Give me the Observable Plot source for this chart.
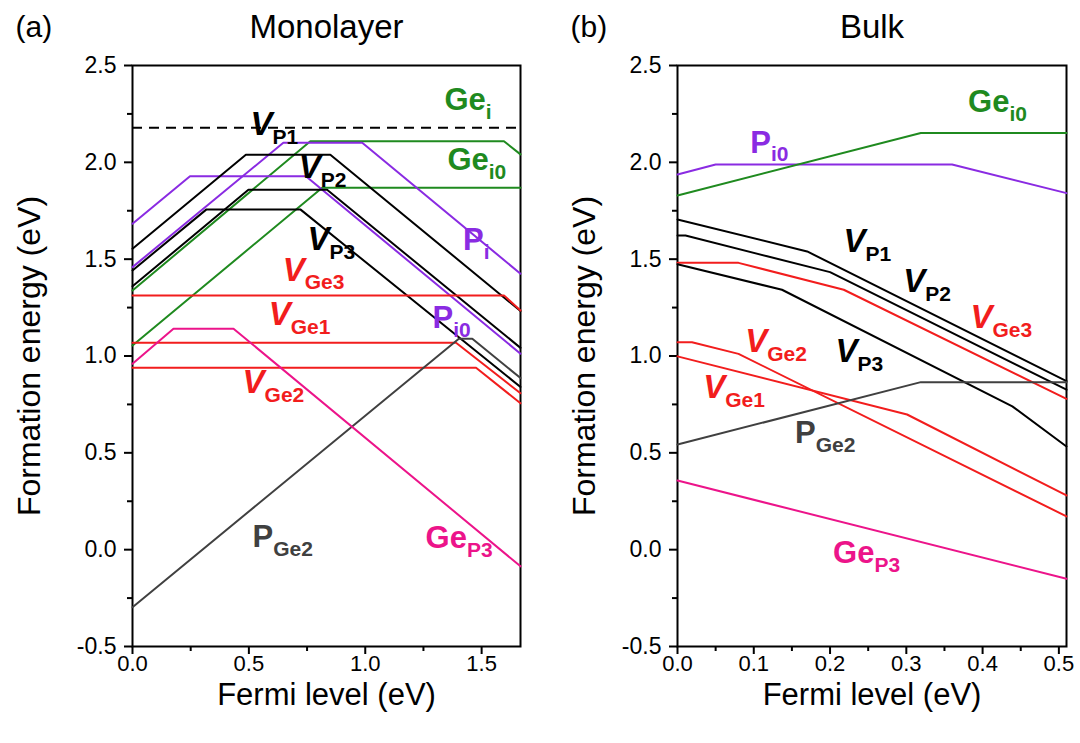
<!DOCTYPE html>
<html><head><meta charset="utf-8">
<script src="https://cdn.jsdelivr.net/npm/d3@7"></script>
<script src="https://cdn.jsdelivr.net/npm/@observablehq/plot@0.6"></script>
<style>
body{margin:0;background:#fff;}
#wrap{position:relative;width:1080px;height:743px;font-family:"Liberation Sans",Arial,sans-serif;}
#wrap svg{position:absolute;top:0;}
</style></head><body><div id="wrap"></div>
<script>
// ---------- Monolayer (a) : [Fermi level, formation energy] ----------
const mono_Ge_i  = [[0,1.338],[0.764,2.109],[1.596,2.109],[1.667,2.041]];
const mono_Ge_i0 = [[0,1.054],[0.815,1.869],[1.667,1.869]];
const mono_P_i   = [[0,1.459],[0.648,2.101],[0.987,2.101],[1.667,1.425]];
const mono_P_i0  = [[0,1.683],[0.247,1.928],[0.745,1.928],[1.667,1.012]];
const mono_V_P1  = [[0,1.554],[0.487,2.039],[0.85,2.039],[1.667,1.232]];
const mono_V_P2  = [[0,1.36],[0.498,1.858],[0.836,1.858],[1.667,1.042]];
const mono_V_P3  = [[0,1.442],[0.318,1.757],[0.721,1.757],[1.667,0.84]];
const mono_V_Ge3 = [[0,1.313],[1.596,1.313],[1.667,1.235]];
const mono_V_Ge1 = [[0,1.068],[1.39,1.068],[1.667,0.808]];
const mono_V_Ge2 = [[0,0.939],[1.476,0.939],[1.667,0.756]];
const mono_P_Ge2 = [[0,-0.297],[1.402,1.089],[1.46,1.089],[1.667,0.886]];
const mono_Ge_P3 = [[0,0.96],[0.176,1.141],[0.434,1.141],[1.667,-0.086]];
const monoRefLevel = [2.178];
const monoSeries = {Ge_i:mono_Ge_i, Ge_i0:mono_Ge_i0, P_i:mono_P_i, P_i0:mono_P_i0,
  V_P1:mono_V_P1, V_P2:mono_V_P2, V_P3:mono_V_P3, V_Ge3:mono_V_Ge3, V_Ge1:mono_V_Ge1,
  V_Ge2:mono_V_Ge2, P_Ge2:mono_P_Ge2, Ge_P3:mono_Ge_P3};
// label anchors in data coordinates
const monoLabels = [["Ge_i",1.34,2.32],["V_P1",0.507,2.19],["Ge_i0",1.353,2.01],["V_P2",0.714,1.968],
  ["P_i",1.42,1.597],["V_P3",0.752,1.597],["P_i0",1.289,1.194],["V_Ge3",0.645,1.44],
  ["V_Ge1",0.585,1.209],["V_Ge2",0.473,0.858],["P_Ge2",0.516,0.063],["Ge_P3",1.259,0.058]];
const monoXMajor = [0, 0.5, 1.0, 1.5];
const monoXMinor = [0.25, 0.75, 1.25];

// ---------- Bulk (b) ----------
const bulk_P_i0  = [[0,1.937],[0.05,1.989],[0.36,1.989],[0.51,1.841]];
const bulk_Ge_i0 = [[0,1.829],[0.319,2.151],[0.51,2.151]];
const bulk_V_P1  = [[0,1.705],[0.17,1.54],[0.51,0.87]];
const bulk_V_P2  = [[0,1.622],[0.0105,1.622],[0.2,1.433],[0.51,0.826]];
const bulk_V_Ge3 = [[0,1.481],[0.08,1.481],[0.218,1.342],[0.51,0.779]];
const bulk_V_P3  = [[0,1.474],[0.137,1.342],[0.439,0.74],[0.51,0.533]];
const bulk_V_Ge2 = [[0,1.071],[0.019,1.071],[0.08,1.011],[0.51,0.172]];
const bulk_V_Ge1 = [[0,0.998],[0.301,0.698],[0.51,0.28]];
const bulk_P_Ge2 = [[0,0.543],[0.319,0.865],[0.51,0.865]];
const bulk_Ge_P3 = [[0,0.357],[0.51,-0.15]];
const bulkSeries = {P_i0:bulk_P_i0, Ge_i0:bulk_Ge_i0, V_P1:bulk_V_P1, V_P2:bulk_V_P2,
  V_Ge3:bulk_V_Ge3, V_P3:bulk_V_P3, V_Ge2:bulk_V_Ge2, V_Ge1:bulk_V_Ge1, P_Ge2:bulk_P_Ge2, Ge_P3:bulk_Ge_P3};
const bulkLabels = [["Ge_i0",0.381,2.309],["P_i0",0.0954,2.102],["V_P1",0.2175,1.586],["V_P2",0.296,1.38],
  ["V_Ge3",0.384,1.194],["V_Ge2",0.0888,1.07],["V_P3",0.207,1.018],["V_Ge1",0.0337,0.832],
  ["P_Ge2",0.154,0.60],["Ge_P3",0.204,-0.019]];
const bulkXMajor = [0, 0.1, 0.2, 0.3, 0.4, 0.5];
const bulkXMinor = [0.05, 0.15, 0.25, 0.35, 0.45];

const yMajor = [-0.5, 0, 0.5, 1.0, 1.5, 2.0, 2.5];
const yMinor = [-0.25, 0.25, 0.75, 1.25, 1.75, 2.25];

// ---------- styles ----------
function colorOf(k) {
  if (k.startsWith("V_Ge")) return "#f21d1d";
  if (k.startsWith("V_P")) return "#000000";
  if (k.startsWith("Ge_i")) return "#1f8a1f";
  if (k.startsWith("P_i")) return "#8a2be2";
  if (k.startsWith("P_Ge")) return "#404040";
  if (k.startsWith("Ge_P")) return "#ec148a";
  return "#000";
}
const FONT = "'Liberation Sans', Arial, Helvetica, sans-serif";

function panel(o) {
  const lines = Object.entries(o.series).map(([k, arr]) =>
    Plot.line(arr, {x: d => d[0], y: d => d[1], stroke: colorOf(k), strokeWidth: 2}));
  const marks = [
    Plot.frame({stroke: "black", strokeWidth: 2}),
    Plot.axisY({ticks: yMajor, tickSize: 8, tickPadding: 8, tickFormat: d => d.toFixed(1), fontSize: 23, strokeWidth: 2, label: null}),
    Plot.axisY({ticks: yMinor, tickSize: 5, tickFormat: () => "", strokeWidth: 2, label: null}),
    Plot.axisX({ticks: o.xMajor, tickSize: 8, tickPadding: 1, tickFormat: d => d.toFixed(1), fontSize: 22, strokeWidth: 2, label: null}),
    Plot.axisX({ticks: o.xMinor, tickSize: 5, tickFormat: () => "", strokeWidth: 2, label: null}),
    ...(o.ref ? [Plot.ruleY(o.ref, {stroke: "black", strokeWidth: 2, strokeDasharray: "10,7"})] : []),
    ...lines,
    Plot.text(o.labels, {x: d => d[1], y: d => d[2], text: d => d[0], fill: d => colorOf(d[0]),
      textAnchor: "start", lineAnchor: "middle", fontSize: 31, fontWeight: "bold"}),
    Plot.text([o.title], {frameAnchor: "top", textAnchor: "middle", lineAnchor: "middle", dy: -38, fontSize: 33}),
    Plot.text([o.tag], {frameAnchor: "top-left", textAnchor: "start", lineAnchor: "middle", dx: o.tagDx, dy: -38, fontSize: 30}),
    Plot.text(["Formation energy (eV)"], {frameAnchor: "left", rotate: -90, textAnchor: "middle", lineAnchor: "middle", dx: o.yTitleDx, fontSize: 32}),
    Plot.text(["Fermi level (eV)"], {frameAnchor: "bottom", textAnchor: "middle", lineAnchor: "middle", dy: 49, fontSize: 31})
  ];
  const svg = Plot.plot({
    width: o.width, height: 743, marginLeft: 132, marginRight: o.marginRight, marginTop: 65, marginBottom: 97,
    x: {domain: o.xDomain}, y: {domain: [-0.5, 2.5]},
    color: {type: "identity"},
    style: {fontFamily: FONT, background: "transparent", color: "black", overflow: "visible"},
    marks
  });
  d3.select(svg).selectAll("text").each(function() {
    const s = this.textContent;
    const i = s.indexOf("_");
    if (i < 0) return;
    const main = s.slice(0, i), sub = s.slice(i + 1);
    const el = d3.select(this);
    el.text(null);
    const t1 = el.append("tspan").text(main);
    if (main === "V") t1.attr("font-style", "italic").attr("font-size", 33);
    el.append("tspan").text(sub).attr("font-size", 21).attr("dy", "0.4em");
  });
  svg.style.left = o.left + "px";
  return svg;
}

const wrap = document.getElementById("wrap");
wrap.appendChild(panel({series: monoSeries, labels: monoLabels, xDomain: [0, 1.667], xMajor: monoXMajor, xMinor: monoXMinor,
  ref: monoRefLevel, title: "Monolayer", tag: "(a)", tagDx: -117, yTitleDx: -103, width: 545, marginRight: 25, left: 0}));
wrap.appendChild(panel({series: bulkSeries, labels: bulkLabels, xDomain: [0, 0.51], xMajor: bulkXMajor, xMinor: bulkXMinor,
  ref: null, title: "Bulk", tag: "(b)", tagDx: -107, yTitleDx: -93, width: 535, marginRight: 14, left: 545}));
</script>
</body></html>
